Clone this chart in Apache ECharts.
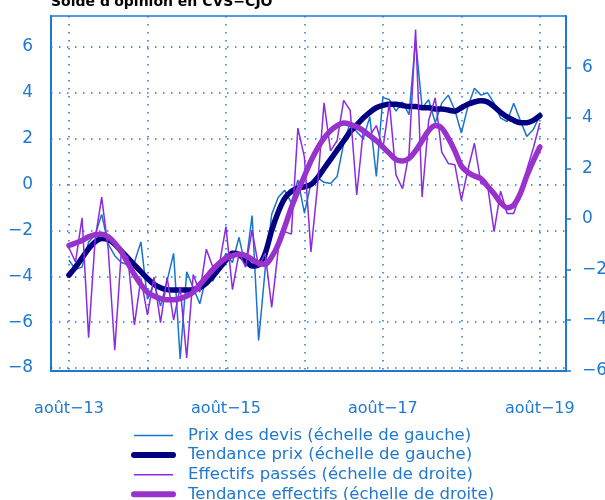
<!DOCTYPE html>
<html>
<head>
<meta charset="utf-8">
<style>
    html, body { margin: 0; padding: 0; background: #fff; }
    #main { width: 605px; height: 500px; }
</style>
<script src="https://cdn.jsdelivr.net/npm/echarts@6/dist/echarts.min.js"></script>
</head>
<body>
<div id="main"></div>
<script>
    // mois depuis août 2013 (0) jusqu'à août 2019 (72)
    var xTickLabels = ['août−13', 'août−15', 'août−17', 'août−19'];
    var xLabelPos = [0, 24, 48, 72];
    var xGridPos = [0, 12, 24, 36, 48, 60, 72];
    var leftTicks = [-8, -6, -4, -2, 0, 2, 4, 6];
    var rightTicks = [-6, -4, -2, 0, 2, 4, 6];

    // échelle de gauche
    var prixDevis = [
        -3.3, -3.7, -3.6, -2.5, -2.2, -1.3, -2.6, -3.1, -3.4, -3.5, -3.4, -2.5,
        -5.0, -4.3, -5.3, -4.2, -3.0, -7.6, -3.8, -4.5, -5.2, -4.0, -4.2, -3.6,
        -3.0, -3.4, -2.3, -3.6, -1.35, -6.8, -3.7, -1.3, -0.55, -0.25, -0.8, 0.2,
        -1.25, 0.05, 0.3, 0.1, 0.05, 0.35, 1.8, 2.7, 2.3, 2.0, 2.95, 0.35,
        3.8, 3.7, 3.2, 3.6, 3.05, 6.3, 3.35, 3.7, 2.7, 3.55, 3.9, 3.25,
        2.25, 3.4, 4.2, 3.9, 4.0, 3.55, 2.9, 2.75, 3.55, 2.8, 2.1, 2.4, 3.0
    ];
    var tendancePrix = [
        -3.95, -3.6, -3.2, -2.8, -2.5, -2.35, -2.4, -2.6, -2.9, -3.2, -3.5, -3.8,
        -4.1, -4.35, -4.5, -4.58, -4.6, -4.6, -4.6, -4.58, -4.5, -4.3, -4.0, -3.65,
        -3.3, -3.0, -3.05, -3.3, -3.55, -3.5, -3.0, -2.0, -1.2, -0.6, -0.3, -0.15,
        -0.1, 0.0, 0.3, 0.7, 1.1, 1.5, 1.9, 2.3, 2.6, 2.9, 3.15, 3.35,
        3.45, 3.5, 3.5, 3.45, 3.4, 3.4, 3.35, 3.35, 3.3, 3.3, 3.25, 3.2,
        3.35, 3.5, 3.6, 3.65, 3.6, 3.4, 3.15, 2.95, 2.8, 2.7, 2.7, 2.8, 3.0
    ];
    // échelle de droite
    var effectifsPasses = [
        -1.15, -1.7, 0.05, -4.7, -0.8, 0.87, -1.2, -5.2, -1.3, -1.5, -4.2, -2.35,
        -3.8, -2.3, -4.1, -2.3, -4.0, -2.7, -5.5, -2.2, -2.9, -1.2, -1.9, -1.8,
        -0.3, -2.8, -1.35, -1.9, -0.45, -1.9, -1.35, -3.5, -1.2, -0.5, -0.6, 3.6,
        2.45, -1.3, 1.3, 4.6, 2.7, 3.1, 4.7, 4.3, 0.95, 3.5, 3.3, 3.7,
        2.8, 4.6, 1.75, 1.2, 2.6, 7.5, 0.87, 3.9, 4.8, 2.65, 2.2, 2.15,
        0.75, 1.95, 3.0, 1.4, 1.35, -0.5, 1.1, 0.22, 0.22, 1.0, 1.95, 2.8, 3.8
    ];
    var tendanceEffectifs = [
        -1.05, -0.95, -0.85, -0.7, -0.62, -0.6, -0.7, -0.95, -1.3, -1.75, -2.2, -2.6,
        -2.9, -3.05, -3.15, -3.2, -3.2, -3.15, -3.05, -2.9, -2.6, -2.3, -2.0, -1.75,
        -1.55, -1.45, -1.4, -1.45, -1.6, -1.75, -1.8, -1.5, -1.0, -0.3, 0.45, 1.1,
        1.7, 2.3, 2.8, 3.2, 3.5, 3.7, 3.8, 3.75, 3.65, 3.5, 3.3, 3.1,
        2.85, 2.6, 2.35, 2.3, 2.4, 2.7, 3.1, 3.5, 3.7, 3.6, 3.2, 2.7,
        2.1, 1.85, 1.7, 1.6, 1.3, 1.0, 0.65, 0.45, 0.55, 1.0, 1.7, 2.3, 2.85
    ];

    var axisBlue = '#1f78d1';
    var fontFam = 'DejaVu Sans, sans-serif';

    function pairs(arr) {
        return arr.map(function (v, i) { return [i, v]; });
    }
    function minus(v) {
        return String(v).replace('-', '−');
    }

    var myChart = echarts.init(document.getElementById('main'), null, {renderer: 'canvas'});
    var option = {
        animation: false,
        title: {
            text: 'Solde d\'opinion en CVS−CJO',
            left: 46,
            top: -10,
            textStyle: {fontSize: 14, fontWeight: 'bold', color: '#000', fontFamily: fontFam}
        },
        grid: {
            left: 51, right: 39, top: 16, bottom: 129,
            outerBoundsMode: 'none',
            show: true, borderColor: axisBlue, borderWidth: 1.5
        },
        legend: {
            orient: 'vertical',
            left: 131,
            top: 427,
            height: 140,
            padding: 0,
            itemWidth: 39,
            itemHeight: 10,
            itemGap: 2.6,
            itemStyle: {opacity: 0},
            textStyle: {color: axisBlue, fontSize: 16.5, fontFamily: fontFam, lineHeight: 16, padding: [0, 0, 0, 10]},
            data: [
                {name: 'Prix des devis (échelle de gauche)', lineStyle: {width: 1.5}},
                {name: 'Tendance prix (échelle de gauche)', lineStyle: {width: 6, cap: 'round'}},
                {name: 'Effectifs passés (échelle de droite)', lineStyle: {width: 1.5}},
                {name: 'Tendance effectifs (échelle de droite)', lineStyle: {width: 6, cap: 'round'}}
            ]
        },
        xAxis: {
            type: 'value',
            min: -2.75,
            max: 76,
            axisLine: {show: true, onZero: false, lineStyle: {color: axisBlue, width: 2}},
            axisTick: {show: false, customValues: xGridPos},
            axisLabel: {
                customValues: xLabelPos,
                margin: 30,
                color: axisBlue, fontSize: 16, fontFamily: fontFam,
                formatter: function (v) { return xTickLabels[xLabelPos.indexOf(v)]; }
            },
            splitLine: {show: true, lineStyle: {color: axisBlue, width: 1.5, type: [1.5, 6.5]}}
        },
        yAxis: [{
            type: 'value',
            min: -8.13,
            max: 7.35,
            axisLine: {show: true, onZero: false, lineStyle: {color: axisBlue, width: 2}},
            axisTick: {show: false, customValues: leftTicks},
            axisLabel: {
                customValues: leftTicks, margin: 18,
                color: axisBlue, fontSize: 17, fontFamily: fontFam,
                formatter: minus
            },
            splitLine: {show: true, lineStyle: {color: axisBlue, width: 1.5, type: [1.5, 6.5]}}
        }, {
            type: 'value',
            position: 'right',
            min: -6.02,
            max: 8.04,
            axisLine: {show: true, onZero: false, lineStyle: {color: axisBlue, width: 2}},
            axisTick: {show: true, customValues: rightTicks, length: 5, lineStyle: {color: axisBlue, width: 1.5}},
            axisLabel: {
                customValues: rightTicks, margin: 16,
                color: axisBlue, fontSize: 17, fontFamily: fontFam,
                formatter: minus
            },
            splitLine: {show: false}
        }],
        series: [{
            name: 'Prix des devis (échelle de gauche)',
            type: 'line',
            yAxisIndex: 0,
            symbol: 'none',
            lineStyle: {color: '#1874CD', width: 1.5},
            itemStyle: {color: '#1874CD'},
            data: pairs(prixDevis)
        }, {
            name: 'Tendance prix (échelle de gauche)',
            type: 'line',
            yAxisIndex: 0,
            symbol: 'none',
            smooth: 0.3,
            lineStyle: {color: '#000080', width: 5.5, cap: 'round'},
            itemStyle: {color: '#000080'},
            data: pairs(tendancePrix)
        }, {
            name: 'Effectifs passés (échelle de droite)',
            type: 'line',
            yAxisIndex: 1,
            symbol: 'none',
            lineStyle: {color: '#8A2BE2', width: 1.5},
            itemStyle: {color: '#8A2BE2'},
            data: pairs(effectifsPasses)
        }, {
            name: 'Tendance effectifs (échelle de droite)',
            type: 'line',
            yAxisIndex: 1,
            symbol: 'none',
            smooth: 0.3,
            lineStyle: {color: '#9932CC', width: 5.5, cap: 'round'},
            itemStyle: {color: '#9932CC'},
            data: pairs(tendanceEffectifs)
        }]
    };
    myChart.setOption(option);
    window.onresize = function () {
        myChart.resize();
    };
</script>
</body>
</html>
